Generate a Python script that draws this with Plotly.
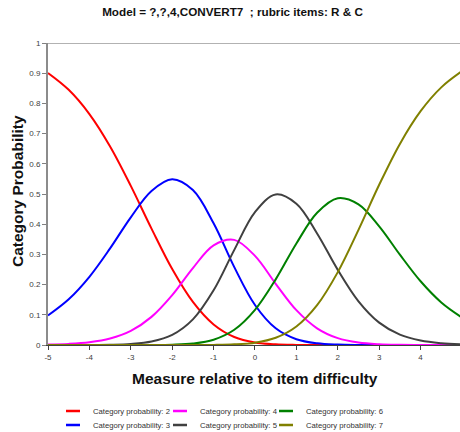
import plotly.graph_objects as go

x_vals = [-5, -4.5, -4, -3.5, -3, -2.5, -2, -1.5, -1, -0.5, 0, 0.5, 1, 1.5, 2, 2.5, 3, 3.5, 4, 4.5, 5]

cat2 = [0.9007, 0.845, 0.7648, 0.6575, 0.5269, 0.3854, 0.2515, 0.1426, 0.068, 0.0264, 0.0082, 0.0021, 0.0004, 0.0001, 0, 0, 0, 0, 0, 0, 0]
cat3 = [0.0978, 0.1513, 0.2258, 0.320, 0.4228, 0.5099, 0.5487, 0.5129, 0.403, 0.2579, 0.1325, 0.0552, 0.0191, 0.0055, 0.0014, 0.0003, 0.0001, 0, 0, 0, 0]
cat4 = [0.0015, 0.0037, 0.0092, 0.0215, 0.0468, 0.0931, 0.1652, 0.2547, 0.3299, 0.3481, 0.295, 0.2027, 0.1153, 0.0553, 0.0226, 0.008, 0.0025, 0.0007, 0.0002, 0, 0]
cat5 = [0, 0.0001, 0.0003, 0.001, 0.0035, 0.0114, 0.0334, 0.0848, 0.1811, 0.315, 0.4401, 0.4985, 0.4676, 0.3694, 0.2487, 0.1446, 0.074, 0.0342, 0.0146, 0.0059, 0.0023]
cat6 = [0, 0, 0, 0, 0.0001, 0.0002, 0.0012, 0.005, 0.0176, 0.0505, 0.1164, 0.2174, 0.3362, 0.4378, 0.486, 0.4658, 0.393, 0.2992, 0.211, 0.141, 0.0909]
cat7 = [0, 0, 0, 0, 0, 0, 0, 0.0001, 0.0004, 0.0021, 0.0078, 0.0241, 0.0614, 0.1319, 0.2413, 0.3813, 0.5305, 0.6659, 0.7742, 0.853, 0.9067]

series_names = ["Category probability: 2", "Category probability: 3", "Category probability: 4",
                "Category probability: 5", "Category probability: 6", "Category probability: 7"]
series_values = [cat2, cat3, cat4, cat5, cat6, cat7]
series_colors = ["#FF0000", "#0000FF", "#FF00FF", "#404040", "#008000", "#808000"]

x_ticks = [-5, -4, -3, -2, -1, 0, 1, 2, 3, 4]
y_ticks = [0, 0.1, 0.2, 0.3, 0.4, 0.5, 0.6, 0.7, 0.8, 0.9, 1]
y_ticklabels = ["0", "0.1", "0.2", "0.3", "0.4", "0.5", "0.6", "0.7", "0.8", "0.9", "1"]

FONT = "Liberation Sans, Arial, sans-serif"
W0, PW, T0, PH = 48, 412, 43, 302

# legend grid: column text starts / row centres (pixels)
leg_text_x = [93, 93, 200, 200, 306, 306]
leg_row_y = [411, 425, 411, 425, 411, 425]
leg_ids = ["legend", "legend2", "legend3", "legend4", "legend5", "legend6"]

fig = go.Figure()
for name, vals, col in zip(series_names, series_values, series_colors):
    fig.add_trace(go.Scatter(
        x=x_vals, y=vals, name=name, mode="lines", showlegend=False,
        line=dict(color=col, width=2, shape="spline", smoothing=1.0),
        hoverinfo="skip"))

# legend entries with short dash symbols
for name, col, lg in zip(series_names, series_colors, leg_ids):
    fig.add_trace(go.Scatter(
        x=[None], y=[None], name=name, mode="markers", legend=lg,
        marker=dict(symbol="line-ew", size=10, color=col, line=dict(width=2.5, color=col)),
        hoverinfo="skip"))

legend_layouts = {}
for lg, tx, ry in zip(leg_ids, leg_text_x, leg_row_y):
    legend_layouts[lg] = dict(
        orientation="v", xanchor="left", yanchor="middle",
        x=(tx - 40 - W0) / PW, y=-(ry - 345) / PH,
        font=dict(family=FONT, size=7.7, color="#333333"),
        bgcolor="rgba(0,0,0,0)", borderwidth=0, itemwidth=30,
    )

fig.update_layout(
    width=460, height=432,
    margin=dict(l=48, r=0, t=43, b=87, pad=0, autoexpand=False),
    paper_bgcolor="white", plot_bgcolor="white",
    font=dict(family=FONT),
    title=dict(text="<b>Model = ?,?,4,CONVERT7  ; rubric items: R &amp; C</b>",
               x=232.5 / 460, xref="container", xanchor="center",
               y=1 - 12 / 432, yref="container", yanchor="middle",
               font=dict(family=FONT, size=11.7, color="#111111")),
    showlegend=True,
    xaxis=dict(
        range=[-5, 4.952], tickmode="array", tickvals=x_ticks,
        ticktext=[str(v) for v in x_ticks], automargin=False,
        ticks="outside", ticklen=4, tickcolor="#404040", tickwidth=1,
        showline=True, linecolor="#404040", linewidth=1,
        showgrid=False, zeroline=False,
        tickfont=dict(family=FONT, size=8, color="#404040"),
    ),
    yaxis=dict(
        range=[0, 1], tickmode="array", tickvals=y_ticks, ticktext=y_ticklabels,
        automargin=False,
        ticks="outside", ticklen=4, tickcolor="#808080", tickwidth=1,
        showline=True, linecolor="#8c8c8c", linewidth=2,
        showgrid=False, zeroline=False,
        tickfont=dict(family=FONT, size=8, color="#404040"),
    ),
    annotations=[
        dict(text="<b>Measure relative to item difficulty</b>", xref="paper", yref="paper",
             x=(255 - W0) / PW, y=-(378 - 345) / PH, xanchor="center", yanchor="middle",
             showarrow=False, font=dict(family=FONT, size=15.5, color="#111111")),
        dict(text="<b>Category Probability</b>", xref="paper", yref="paper",
             x=(18 - W0) / PW, y=(345 - 191) / PH, xanchor="center", yanchor="middle",
             textangle=-90, showarrow=False, font=dict(family=FONT, size=15.5, color="#111111")),
    ],
    shapes=[dict(type="line", xref="paper", yref="y", x0=0, x1=1, y0=1, y1=1,
                 line=dict(color="#666666", width=1))],
    **legend_layouts,
)

fig.write_html("out.html", config={"displayModeBar": False},
               post_script="document.body.style.margin='0';document.body.style.padding='0';document.body.style.overflow='hidden';")
